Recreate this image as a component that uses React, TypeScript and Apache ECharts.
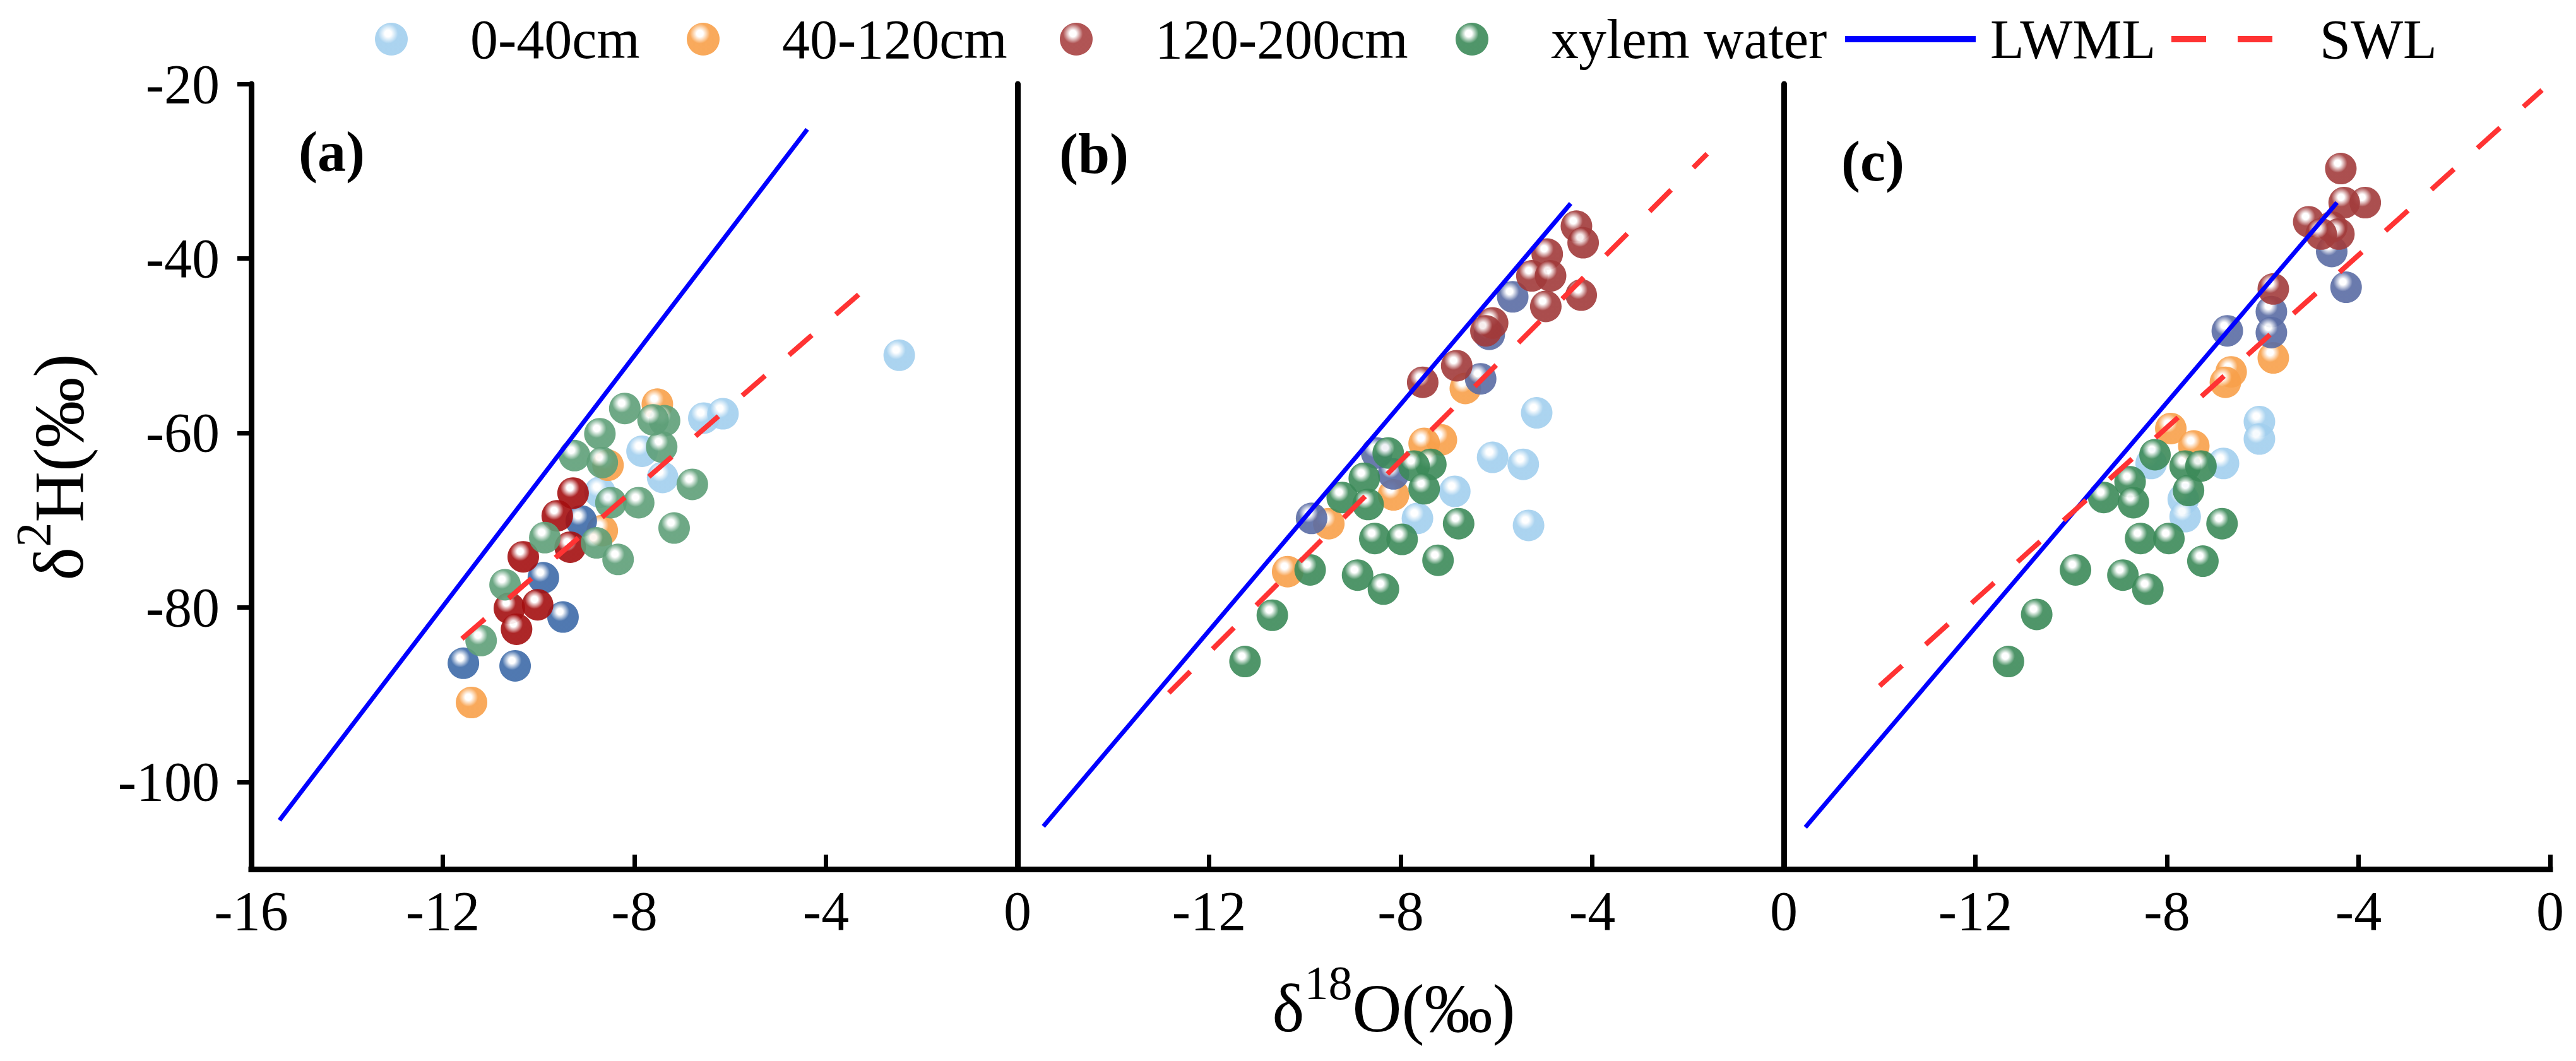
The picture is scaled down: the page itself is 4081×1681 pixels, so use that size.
import React, { useEffect, useRef } from 'react';
import * as echarts from 'echarts';

const FONT = 'Liberation Serif';

// axis values
const xMin = -16;
const xMax = 0;
const xInterval = 4;
const yMin = -110;
const yMax = -20;
const yTickValues = [-100, -80, -60, -40, -20];

const panelLabels = ['(a)', '(b)', '(c)'];
const seriesNames = ['0-40cm', '40-120cm', '120-200cm', 'xylem water', 'LWML', 'SWL'];

// ---------- panel (a) ----------
const soilTopA = [[-6.55, -58.3], [-6.15, -57.8], [-7.84, -62.1], [-7.41, -65.1], [-8.72, -66.8], [-2.47, -51.1]];
const soilMidA = [[-7.52, -56.7], [-8.55, -63.7], [-8.67, -71.2], [-11.4, -90.9]];
const otherA = [[-9.11, -70.1], [-9.9, -76.6], [-9.49, -81.1], [-11.57, -86.4], [-10.49, -86.7]];
const soilDeepA = [[-9.28, -66.9], [-9.61, -69.5], [-9.34, -73.1], [-10.32, -74.2], [-10.61, -80.1], [-10.02, -79.7], [-10.46, -82.5]];
const xylemA = [[-8.2, -57.2], [-8.72, -60.1], [-9.25, -62.6], [-7.37, -58.6], [-7.43, -61.6], [-7.61, -58.5], [-8.67, -63.4], [-6.79, -65.9], [-7.91, -68.0], [-8.49, -68.0], [-7.17, -70.9], [-8.79, -72.6], [-8.34, -74.5], [-9.87, -72.0], [-10.7, -77.4], [-11.2, -83.8]];
const lwmlA = [[-15.41, -104.4], [-4.39, -25.2]];
const swlA = [[-11.6, -83.6], [-2.95, -42.4]];

// ---------- panel (b) ----------
const soilTopB = [[-5.16, -57.7], [-6.08, -62.8], [-5.44, -63.6], [-6.87, -66.7], [-7.65, -69.8], [-5.33, -70.6]];
const soilMidB = [[-7.15, -60.8], [-7.51, -61.2], [-8.15, -67.1], [-9.5, -70.4], [-10.36, -75.9], [-6.65, -54.9]];
const otherB = [[-5.66, -44.4], [-6.33, -53.8], [-9.86, -69.8], [-8.15, -64.7], [-8.5, -62.3], [-6.15, -48.7]];
const soilDeepB = [[-4.33, -36.3], [-4.19, -38.2], [-4.94, -39.5], [-5.26, -42.0], [-4.87, -42.0], [-4.23, -44.2], [-4.97, -45.5], [-6.08, -47.4], [-6.22, -48.3], [-6.83, -52.3], [-7.54, -54.2]];
const xylemB = [[-8.26, -62.3], [-7.37, -63.6], [-7.72, -63.8], [-8.76, -65.2], [-7.51, -66.4], [-9.22, -67.4], [-8.68, -68.2], [-8.54, -72.1], [-7.97, -72.2], [-6.79, -70.4], [-7.22, -74.6], [-9.89, -75.7], [-8.9, -76.3], [-8.36, -77.9], [-10.68, -80.9], [-11.25, -86.2]];
const lwmlB = [[-15.46, -105.1], [-4.45, -33.7]];
const swlB = [[-12.84, -89.8], [-1.6, -28.0]];

// ---------- panel (c) ----------
const soilTopC = [[-6.07, -58.7], [-6.07, -60.7], [-6.82, -63.5], [-8.33, -63.5], [-7.66, -67.6], [-7.62, -69.6]];
const soilMidC = [[-5.78, -51.4], [-6.66, -53.0], [-6.78, -54.2], [-7.92, -59.5], [-7.44, -61.5]];
const otherC = [[-4.56, -39.2], [-4.26, -43.3], [-5.82, -46.1], [-5.82, -48.5], [-6.74, -48.3]];
const soilDeepC = [[-4.37, -29.7], [-3.86, -33.6], [-4.3, -33.6], [-5.04, -35.8], [-4.56, -36.4], [-4.41, -37.2], [-4.78, -37.2], [-5.78, -43.5]];
const xylemC = [[-8.25, -62.5], [-7.62, -63.8], [-7.29, -63.8], [-8.77, -65.6], [-7.55, -66.6], [-9.32, -67.4], [-8.7, -68.0], [-6.85, -70.4], [-8.55, -72.1], [-7.96, -72.1], [-7.25, -74.7], [-9.91, -75.7], [-8.92, -76.3], [-8.4, -77.9], [-10.72, -80.8], [-11.31, -86.2]];
const lwmlC = [[-15.55, -105.2], [-4.45, -33.6]];
const swlC = [[-14.0, -89.0], [-0.17, -20.7]];

const panels = [
  { top: soilTopA, mid: soilMidA, other: otherA, deep: soilDeepA, xylem: xylemA, lwml: lwmlA, swl: swlA },
  { top: soilTopB, mid: soilMidB, other: otherB, deep: soilDeepB, xylem: xylemB, lwml: lwmlB, swl: swlB },
  { top: soilTopC, mid: soilMidC, other: otherC, deep: soilDeepC, xylem: xylemC, lwml: lwmlC, swl: swlC },
];

// colours per panel
const lightBlue = '#a2cfee';
const orange = '#f8a04a';
const redCols = ['#a40f10', '#a13a3a', '#a23c3c'];
const greenCols = ['#5e9f78', '#3c8a59', '#3c8a59'];
const blueCols = ['#3d6aa8', '#5a6ca4', '#5a6ca4'];

const ball = (base: string) => ({
  type: 'radial',
  x: 0.4,
  y: 0.33,
  r: 0.72,
  colorStops: [
    { offset: 0, color: '#ffffff' },
    { offset: 0.14, color: '#ffffff' },
    { offset: 0.42, color: base },
    { offset: 1, color: base },
  ],
});

const gridLefts = [398, 1612, 2826];
const gridWidth = 1214;
const gridTop = 133;
const gridHeight = 1244;

const serifRich = {
  t: { fontFamily: FONT, fontSize: 88, color: '#000', fill: '#000' },
};

export default function App() {
  const ref = useRef<HTMLDivElement>(null);

  useEffect(() => {
    if (!ref.current) return;
    const chart = echarts.init(ref.current, undefined, { renderer: 'svg' });

    const grid = gridLefts.map((l) => ({ left: l, top: gridTop, width: gridWidth, height: gridHeight }));

    const xAxis = gridLefts.map((_, i) => ({
      gridIndex: i,
      type: 'value',
      min: xMin,
      max: xMax,
      interval: xInterval,
      axisLine: { show: true, onZero: false, lineStyle: { color: '#000', width: 9, cap: 'square' } },
      axisTick: { show: true, inside: true, length: 23, lineStyle: { color: '#000', width: 7 } },
      axisLabel: {
        show: true,
        showMinLabel: i === 0,
        showMaxLabel: true,
        fontFamily: FONT,
        fontSize: 88,
        color: '#000',
        margin: 22,
        formatter: (v: number) => `{t|${v}}`,
        rich: serifRich,
      },
      splitLine: { show: false },
    }));

    const yAxis = gridLefts.map((_, i) => ({
      gridIndex: i,
      type: 'value',
      min: yMin,
      max: yMax,
      axisLine: { show: true, onZero: false, lineStyle: { color: '#000', width: 9 } },
      axisTick: {
        show: i === 0,
        inside: false,
        length: 22,
        customValues: yTickValues,
        lineStyle: { color: '#000', width: 7 },
      },
      axisLabel: {
        show: i === 0,
        customValues: yTickValues,
        fontFamily: FONT,
        fontSize: 88,
        color: '#000',
        margin: 50,
        formatter: (v: number) => `{t|${v}}`,
        rich: serifRich,
      },
      splitLine: { show: false },
    }));

    const series: any[] = [];
    panels.forEach((p, i) => {
      const sc = (name: string, data: number[][], color: string) => ({
        name,
        type: 'scatter',
        xAxisIndex: i,
        yAxisIndex: i,
        data,
        symbol: 'circle',
        symbolSize: 50,
        itemStyle: { color: ball(color), opacity: 0.9 },
        z: 2,
      });
      series.push(sc('0-40cm', p.top, lightBlue));
      series.push(sc('40-120cm', p.mid, orange));
      series.push(sc('other soil', p.other, blueCols[i]));
      series.push(sc('120-200cm', p.deep, redCols[i]));
      series.push(sc('xylem water', p.xylem, greenCols[i]));
      series.push({
        name: 'LWML',
        type: 'line',
        xAxisIndex: i,
        yAxisIndex: i,
        data: p.lwml,
        symbol: 'none',
        color: '#0000ff',
        itemStyle: { color: '#0000ff' },
        lineStyle: { color: '#0000ff', width: 7 },
        z: 3,
      });
      series.push({
        name: 'SWL',
        type: 'line',
        xAxisIndex: i,
        yAxisIndex: i,
        data: p.swl,
        symbol: 'none',
        color: '#ff3333',
        itemStyle: { color: '#ff3333' },
        lineStyle: { color: '#ff3333', width: 8, type: [48, 50] },
        z: 3,
      });
    });

    const legendText = { fontFamily: FONT, fontSize: 88, color: '#000', rich: serifRich };
    const legendBase = {
      orient: 'horizontal',
      padding: 0,
      top: 18,
      selectedMode: false,
      symbolKeepAspect: true,
      formatter: (name: string) => `{t|${name}}`,
    };
    // left is the left edge of the round marker (its centre sits 26px further right)
    const scatterLegend = (name: string, markerLeft: number, color: string) => ({
      ...legendBase,
      left: markerLeft,
      itemWidth: 240,
      itemHeight: 52,
      textStyle: legendText,
      data: [{ name, icon: 'circle', itemStyle: { color: ball(color), opacity: 0.9 } }],
    });
    const legend = [
      scatterLegend(seriesNames[0], 594, lightBlue),
      scatterLegend(seriesNames[1], 1088, orange),
      scatterLegend(seriesNames[2], 1679, '#a84242'),
      scatterLegend(seriesNames[3], 2306, '#3c8a59'),
      {
        ...legendBase,
        symbolKeepAspect: false,
        left: 2923,
        itemWidth: 207,
        itemHeight: 10,
        textStyle: { ...legendText, padding: [0, 0, 0, 18] },
        data: [{ name: seriesNames[4], icon: 'rect', itemStyle: { color: '#0000ff' } }],
      },
      {
        ...legendBase,
        symbolKeepAspect: false,
        left: 3440,
        itemWidth: 160,
        itemHeight: 10,
        textStyle: { ...legendText, padding: [0, 0, 0, 70] },
        data: [
          {
            name: seriesNames[5],
            icon: 'path://M0,0H55V10H0Z M105,0H160V10H105Z',
            itemStyle: { color: '#ff3333' },
          },
        ],
      },
    ];

    const labelPos = [
      [473, 240],
      [1678, 243],
      [2917, 255],
    ];

    const graphic: any[] = labelPos.map((pos, i) => ({
      type: 'text',
      x: pos[0],
      y: pos[1],
      silent: true,
      style: {
        text: panelLabels[i],
        fontFamily: FONT,
        fontSize: 90,
        fontWeight: 'bold',
        fill: '#000',
        align: 'left',
        verticalAlign: 'middle',
        textAlign: 'left',
        textVerticalAlign: 'middle',
      },
    }));

    graphic.push({
      type: 'text',
      x: 2208,
      y: 1597,
      silent: true,
      style: {
        text: '{b|δ}{s|18}{b|O(‰)}',
        fontFamily: FONT,
        fontSize: 108,
        fill: '#000',
        align: 'center',
        verticalAlign: 'middle',
        textAlign: 'center',
        textVerticalAlign: 'middle',
        rich: {
          b: { fontFamily: FONT, fontSize: 108, lineHeight: 156, fill: '#000', color: '#000' },
          s: { fontFamily: FONT, fontSize: 76, lineHeight: 76, verticalAlign: 'top', fill: '#000', color: '#000' },
        },
      },
    });

    graphic.push({
      type: 'text',
      x: 93,
      y: 740,
      rotation: Math.PI / 2,
      silent: true,
      style: {
        text: '{b|δ}{s|2}{b|H(‰)}',
        fontFamily: FONT,
        fontSize: 112,
        fill: '#000',
        align: 'center',
        verticalAlign: 'middle',
        textAlign: 'center',
        textVerticalAlign: 'middle',
        rich: {
          b: { fontFamily: FONT, fontSize: 112, lineHeight: 160, fill: '#000', color: '#000' },
          s: { fontFamily: FONT, fontSize: 78, lineHeight: 78, verticalAlign: 'top', fill: '#000', color: '#000' },
        },
      },
    });

    chart.setOption({
      animation: false,
      backgroundColor: '#ffffff',
      textStyle: { fontFamily: FONT },
      grid,
      xAxis,
      yAxis,
      legend,
      series,
      graphic,
    });

    return () => {
      chart.dispose();
    };
  }, []);

  return (
    <div
      ref={ref}
      style={{ position: 'fixed', left: 0, top: 0, width: '4081px', height: '1681px', background: '#fff' }}
    />
  );
}
